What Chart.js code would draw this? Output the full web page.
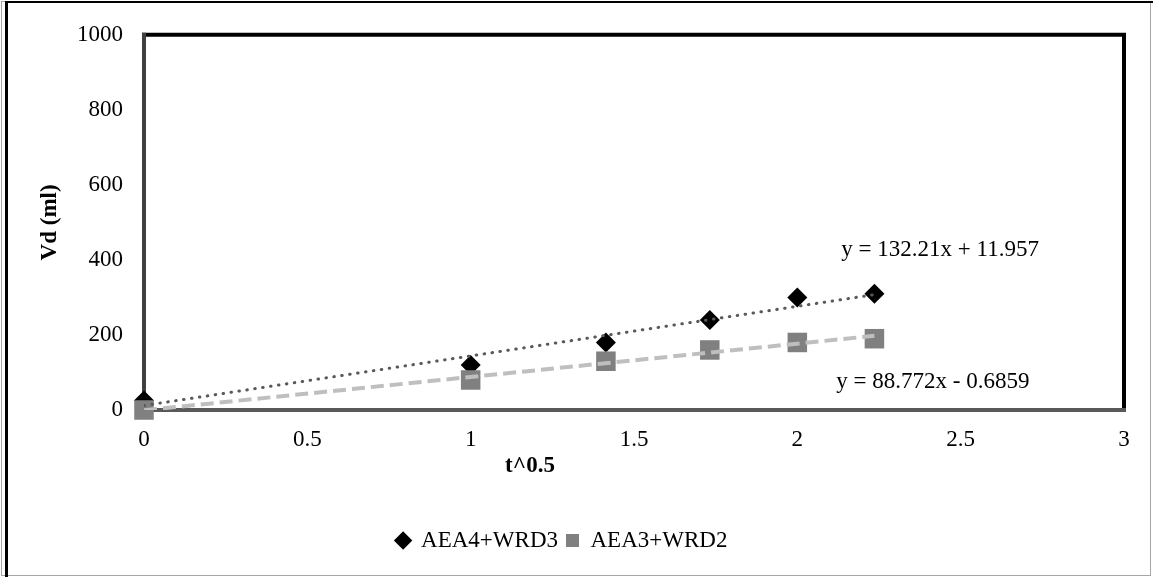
<!DOCTYPE html>
<html>
<head>
<meta charset="utf-8">
<script src="https://cdn.jsdelivr.net/npm/chart.js@4/dist/chart.umd.min.js"></script>
<style>
  html, body { margin: 0; padding: 0; background: #ffffff; }
  #wrap { width: 1153px; height: 577px; position: relative; }
</style>
</head>
<body>
<div id="wrap"><canvas id="c" width="1153" height="577"></canvas></div>
<script>
// ---- data ----
const xValues = [0, 1, 1.414, 1.732, 2, 2.236];
const seriesNames = ["AEA4+WRD3", "AEA3+WRD2"];
const seriesA = [25, 120, 180, 240, 300, 310];
const seriesB = [0, 80, 130, 160, 180, 190];
const trendSlope = [132.21, 88.772];
const trendIntercept = [11.957, -0.6859];
const trendLabels = ["y = 132.21x + 11.957", "y = 88.772x - 0.6859"];
const xTicks = [0, 0.5, 1, 1.5, 2, 2.5, 3];
const yTicks = [0, 200, 400, 600, 800, 1000];
const xTitle = "t^0.5";
const yTitle = "Vd (ml)";

const FONT = "'Liberation Serif', 'Times New Roman', serif";
const FS = 23;

function pts(ys) { return xValues.map((x, i) => ({ x: x, y: ys[i] })); }
function trend(k) {
  const x0 = xValues[0], x1 = xValues[xValues.length - 1];
  return [{ x: x0, y: trendSlope[k] * x0 + trendIntercept[k] },
          { x: x1, y: trendSlope[k] * x1 + trendIntercept[k] }];
}

const decor = {
  id: 'decor',
  beforeDatasetsDraw(chart) {
    const ctx = chart.ctx;
    const a = chart.chartArea;
    ctx.save();
    ctx.lineCap = 'square';
    ctx.lineWidth = 4;
    ctx.strokeStyle = '#000000';
    ctx.beginPath(); ctx.moveTo(a.left, a.top); ctx.lineTo(a.right, a.top); ctx.lineTo(a.right, a.bottom); ctx.stroke();
    ctx.strokeStyle = '#404040';
    ctx.beginPath(); ctx.moveTo(a.left, a.top); ctx.lineTo(a.left, a.bottom); ctx.stroke();
    ctx.strokeStyle = '#595959';
    ctx.beginPath(); ctx.moveTo(a.left, a.bottom); ctx.lineTo(a.right, a.bottom); ctx.stroke();
    ctx.restore();
  },
  afterDraw(chart) {
    const ctx = chart.ctx;
    const a = chart.chartArea;
    const xs = chart.scales.x, ys = chart.scales.y;
    ctx.save();
    // outer frame
    ctx.lineWidth = 1;
    ctx.strokeStyle = '#a6a6a6';
    ctx.strokeRect(1.5, 1.5, 1149, 574);
    ctx.lineWidth = 3;
    ctx.strokeStyle = '#000000';
    ctx.beginPath(); ctx.moveTo(6.5, 2); ctx.lineTo(6.5, 577); ctx.stroke();
    ctx.lineWidth = 2;
    ctx.beginPath(); ctx.moveTo(5, 2); ctx.lineTo(1153, 2); ctx.stroke();
    // trendline equations
    ctx.fillStyle = '#000000';
    ctx.font = FS + "px " + FONT;
    ctx.textAlign = 'center';
    ctx.textBaseline = 'middle';
    ctx.fillText(trendLabels[0], xs.getPixelForValue(2.437), ys.getPixelForValue(427));
    ctx.fillText(trendLabels[1], xs.getPixelForValue(2.415), ys.getPixelForValue(74));
    // axis titles
    ctx.font = "bold " + FS + "px " + FONT;
    ctx.fillText(xTitle, 530, 466);
    ctx.translate(50, (a.top + a.bottom) / 2);
    ctx.rotate(-Math.PI / 2);
    ctx.fillText(yTitle, 0, 0);
    ctx.restore();
  }
};

new Chart(document.getElementById('c'), {
  type: 'scatter',
  data: {
    datasets: [
      { label: seriesNames[0], data: pts(seriesA), pointStyle: 'rectRot', pointRadius: 10, pointHoverRadius: 10,
        backgroundColor: '#000000', borderColor: '#000000', borderWidth: 0, order: 2, clip: false },
      { label: seriesNames[1], data: pts(seriesB), pointStyle: 'rect', pointRadius: 13.8, pointHoverRadius: 13.8,
        backgroundColor: '#808080', borderColor: '#808080', borderWidth: 0, order: 1, clip: false },
      { label: 'trendA', type: 'line', data: trend(0), showLine: true, pointRadius: 0, borderColor: '#595959',
        borderWidth: 3, borderDash: [0.5, 7.5], borderCapStyle: 'round', fill: false, order: 0 },
      { label: 'trendB', type: 'line', data: trend(1), showLine: true, pointRadius: 0, borderColor: '#bfbfbf',
        borderWidth: 4, borderDash: [13, 6], borderCapStyle: 'butt', fill: false, order: 0 }
    ]
  },
  options: {
    responsive: false,
    animation: false,
    layout: { padding: { left: 0, right: 29, top: 32, bottom: 15 } },
    plugins: {
      tooltip: { enabled: false },
      legend: {
        position: 'bottom',
        labels: {
          filter: (item) => item.datasetIndex < 2,
          sort: (a, b) => a.datasetIndex - b.datasetIndex,
          usePointStyle: true,
          boxWidth: 13, boxHeight: 13,
          padding: 8,
          color: '#000000',
          font: { family: FONT, size: FS }
        }
      }
    },
    scales: {
      x: {
        type: 'linear', min: 0, max: 3,
        afterBuildTicks: (s) => { s.ticks = xTicks.map(v => ({ value: v })); },
        afterFit: (s) => { s.height = 111; },
        grid: { display: false, drawTicks: false },
        border: { display: false },
        ticks: { color: '#000000', font: { family: FONT, size: FS }, padding: 16, maxRotation: 0,
                 callback: (v) => String(v) }
      },
      y: {
        type: 'linear', min: 0, max: 1000,
        afterBuildTicks: (s) => { s.ticks = yTicks.map(v => ({ value: v })); },
        afterFit: (s) => { s.width = 144; },
        grid: { display: false, drawTicks: false },
        border: { display: false },
        ticks: { color: '#000000', font: { family: FONT, size: FS }, padding: 21,
                 callback: (v) => String(v) }
      }
    }
  },
  plugins: [decor]
});
</script>
</body>
</html>
